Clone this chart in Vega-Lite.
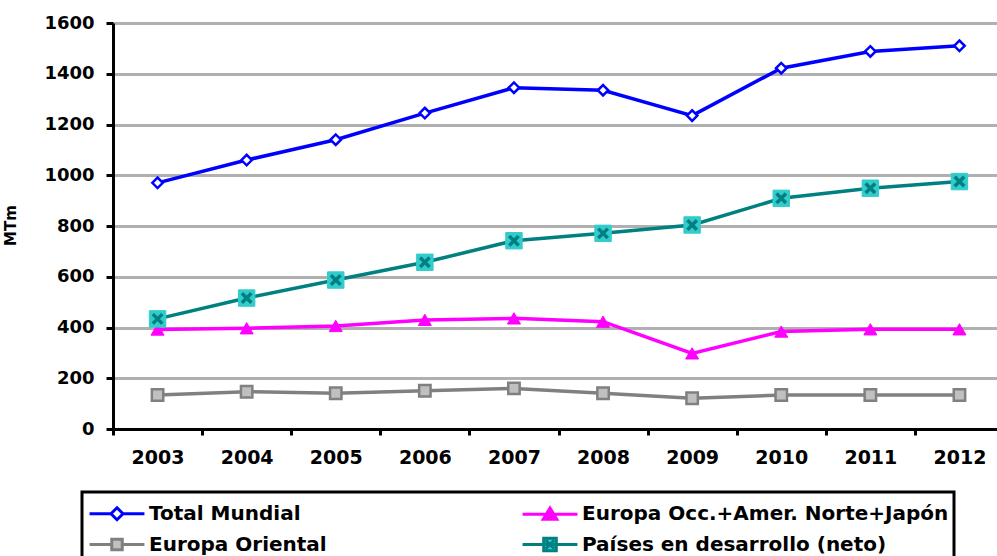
{
  "$schema": "https://vega.github.io/schema/vega-lite/v6.json",
  "width": 884,
  "height": 406,
  "autosize": {"type": "none"},
  "padding": {"left": 113, "top": 23, "right": 0, "bottom": 127},
  "background": "white",
  "config": {"view": {"stroke": null}, "font": "DejaVu Sans"},
  "data": {"values": [
    {"year": "2003", "series": "Total Mundial", "value": 970},
    {"year": "2004", "series": "Total Mundial", "value": 1060},
    {"year": "2005", "series": "Total Mundial", "value": 1140},
    {"year": "2006", "series": "Total Mundial", "value": 1245},
    {"year": "2007", "series": "Total Mundial", "value": 1345},
    {"year": "2008", "series": "Total Mundial", "value": 1335},
    {"year": "2009", "series": "Total Mundial", "value": 1235},
    {"year": "2010", "series": "Total Mundial", "value": 1422},
    {"year": "2011", "series": "Total Mundial", "value": 1488},
    {"year": "2012", "series": "Total Mundial", "value": 1510},
    {"year": "2003", "series": "Europa Occ.+Amer. Norte+Japón", "value": 392},
    {"year": "2004", "series": "Europa Occ.+Amer. Norte+Japón", "value": 397},
    {"year": "2005", "series": "Europa Occ.+Amer. Norte+Japón", "value": 406},
    {"year": "2006", "series": "Europa Occ.+Amer. Norte+Japón", "value": 430},
    {"year": "2007", "series": "Europa Occ.+Amer. Norte+Japón", "value": 436},
    {"year": "2008", "series": "Europa Occ.+Amer. Norte+Japón", "value": 423},
    {"year": "2009", "series": "Europa Occ.+Amer. Norte+Japón", "value": 298},
    {"year": "2010", "series": "Europa Occ.+Amer. Norte+Japón", "value": 384},
    {"year": "2011", "series": "Europa Occ.+Amer. Norte+Japón", "value": 393},
    {"year": "2012", "series": "Europa Occ.+Amer. Norte+Japón", "value": 393},
    {"year": "2003", "series": "Europa Oriental", "value": 134},
    {"year": "2004", "series": "Europa Oriental", "value": 147},
    {"year": "2005", "series": "Europa Oriental", "value": 141},
    {"year": "2006", "series": "Europa Oriental", "value": 151},
    {"year": "2007", "series": "Europa Oriental", "value": 160},
    {"year": "2008", "series": "Europa Oriental", "value": 141},
    {"year": "2009", "series": "Europa Oriental", "value": 121},
    {"year": "2010", "series": "Europa Oriental", "value": 134},
    {"year": "2011", "series": "Europa Oriental", "value": 134},
    {"year": "2012", "series": "Europa Oriental", "value": 134},
    {"year": "2003", "series": "Países en desarrollo (neto)", "value": 434},
    {"year": "2004", "series": "Países en desarrollo (neto)", "value": 516},
    {"year": "2005", "series": "Países en desarrollo (neto)", "value": 587},
    {"year": "2006", "series": "Países en desarrollo (neto)", "value": 657},
    {"year": "2007", "series": "Países en desarrollo (neto)", "value": 742},
    {"year": "2008", "series": "Países en desarrollo (neto)", "value": 771},
    {"year": "2009", "series": "Países en desarrollo (neto)", "value": 804},
    {"year": "2010", "series": "Países en desarrollo (neto)", "value": 909},
    {"year": "2011", "series": "Países en desarrollo (neto)", "value": 949},
    {"year": "2012", "series": "Países en desarrollo (neto)", "value": 975}
  ]},
  "encoding": {
    "x": {
      "field": "year", "type": "ordinal",
      "scale": {"type": "band", "paddingInner": 0, "paddingOuter": 0, "range": [0, 891]},
      "axis": {
        "title": null, "labelAngle": 0, "labelFontSize": 19, "labelFontWeight": "bold", "labelColor": "black",
        "tickBand": "extent", "tickSize": 6, "tickWidth": 3, "tickColor": "black",
        "domainColor": "black", "domainWidth": 3, "grid": false, "labelPadding": 13
      }
    },
    "y": {
      "field": "value", "type": "quantitative",
      "scale": {"domain": [0, 1600], "nice": false},
      "axis": {
        "values": [0, 200, 400, 600, 800, 1000, 1200, 1400, 1600],
        "format": "d",
        "title": "MTm", "titleFontSize": 15, "titleFontWeight": "bold", "titleColor": "black",
        "titleX": -95, "titleY": 202,
        "grid": true, "gridColor": "#b0b0b0", "gridWidth": 3,
        "domainColor": "black", "domainWidth": 3,
        "tickSize": 7, "tickWidth": 3, "tickColor": "black",
        "labelFontSize": 18, "labelFontWeight": "bold", "labelColor": "black", "labelPadding": 12
      }
    }
  },
  "layer": [
    {
      "mark": {"type": "line", "strokeWidth": 3.5},
      "encoding": {
        "color": {
          "field": "series", "type": "nominal",
          "scale": {
            "domain": ["Total Mundial", "Europa Oriental", "Europa Occ.+Amer. Norte+Japón", "Países en desarrollo (neto)"],
            "range": ["#0000FF", "#808080", "#FF00FF", "#008080"]
          },
          "legend": {
            "orient": "none", "legendX": -31, "legendY": 469, "columns": 2, "title": null,
            "symbolSize": 900, "labelOffset": 29, "labelFontSize": 20, "labelFontWeight": "bold",
            "labelColor": "black", "labelLimit": 0, "columnPadding": 189, "rowPadding": 2,
            "padding": 5, "strokeColor": "black",
            "encode": {
              "legend": {"update": {"strokeWidth": {"value": 3}}},
              "symbols": {"update": {
                "shape": {"signal": "datum.value === 'Total Mundial' ? 'M-0.93,0H0.5M1.3,0H2.73M0.9,-0.4L1.3,0L0.9,0.4L0.5,0Z' : datum.value === 'Europa Occ.+Amer. Norte+Japón' ? 'M-0.93,0H2.73M0.9,-0.42L1.35,0.32H0.45Z' : datum.value === 'Europa Oriental' ? 'M-0.93,0H0.55M1.25,0H2.73M0.55,-0.35H1.25V0.35H0.55Z' : 'M-0.93,0H2.73M0.48,-0.42H1.32V0.42H0.48ZM0.62,-0.28L1.18,0.28M1.18,-0.28L0.62,0.28'"},
                "fill": {"signal": "datum.value === 'Total Mundial' ? '#FFFFFF' : datum.value === 'Europa Occ.+Amer. Norte+Japón' ? '#FF00FF' : datum.value === 'Europa Oriental' ? '#C0C0C0' : '#33CCCC'"},
                "stroke": {"signal": "datum.value === 'Total Mundial' ? '#0000FF' : datum.value === 'Europa Occ.+Amer. Norte+Japón' ? '#FF00FF' : datum.value === 'Europa Oriental' ? '#808080' : '#008080'"},
                "strokeWidth": {"value": 3},
                "opacity": {"value": 1}
              }}
            }
          }
        }
      }
    },
    {
      "transform": [{"filter": "datum.series === 'Total Mundial'"}],
      "mark": {"type": "point", "shape": "diamond", "size": 110, "fill": "#FFFFFF", "stroke": "#0000FF", "strokeWidth": 2.5, "filled": true, "opacity": 1}
    },
    {
      "transform": [{"filter": "datum.series === 'Europa Occ.+Amer. Norte+Japón'"}],
      "mark": {"type": "point", "shape": "triangle-up", "size": 170, "fill": "#FF00FF", "stroke": "#FF00FF", "strokeWidth": 1, "filled": true, "opacity": 1}
    },
    {
      "transform": [{"filter": "datum.series === 'Europa Oriental'"}],
      "mark": {"type": "point", "shape": "square", "size": 130, "fill": "#C0C0C0", "stroke": "#808080", "strokeWidth": 2.5, "filled": true, "opacity": 1}
    },
    {
      "transform": [{"filter": "datum.series === 'Países en desarrollo (neto)'"}],
      "mark": {"type": "point", "shape": "square", "size": 270, "fill": "#33CCCC", "stroke": "#33CCCC", "strokeWidth": 1, "filled": true, "opacity": 1}
    },
    {
      "transform": [{"filter": "datum.series === 'Países en desarrollo (neto)'"}],
      "mark": {"type": "point", "shape": "M-1,-1L1,1M1,-1L-1,1", "size": 90, "stroke": "#008080", "strokeWidth": 3.5, "filled": false, "opacity": 1}
    }
  ]
}
